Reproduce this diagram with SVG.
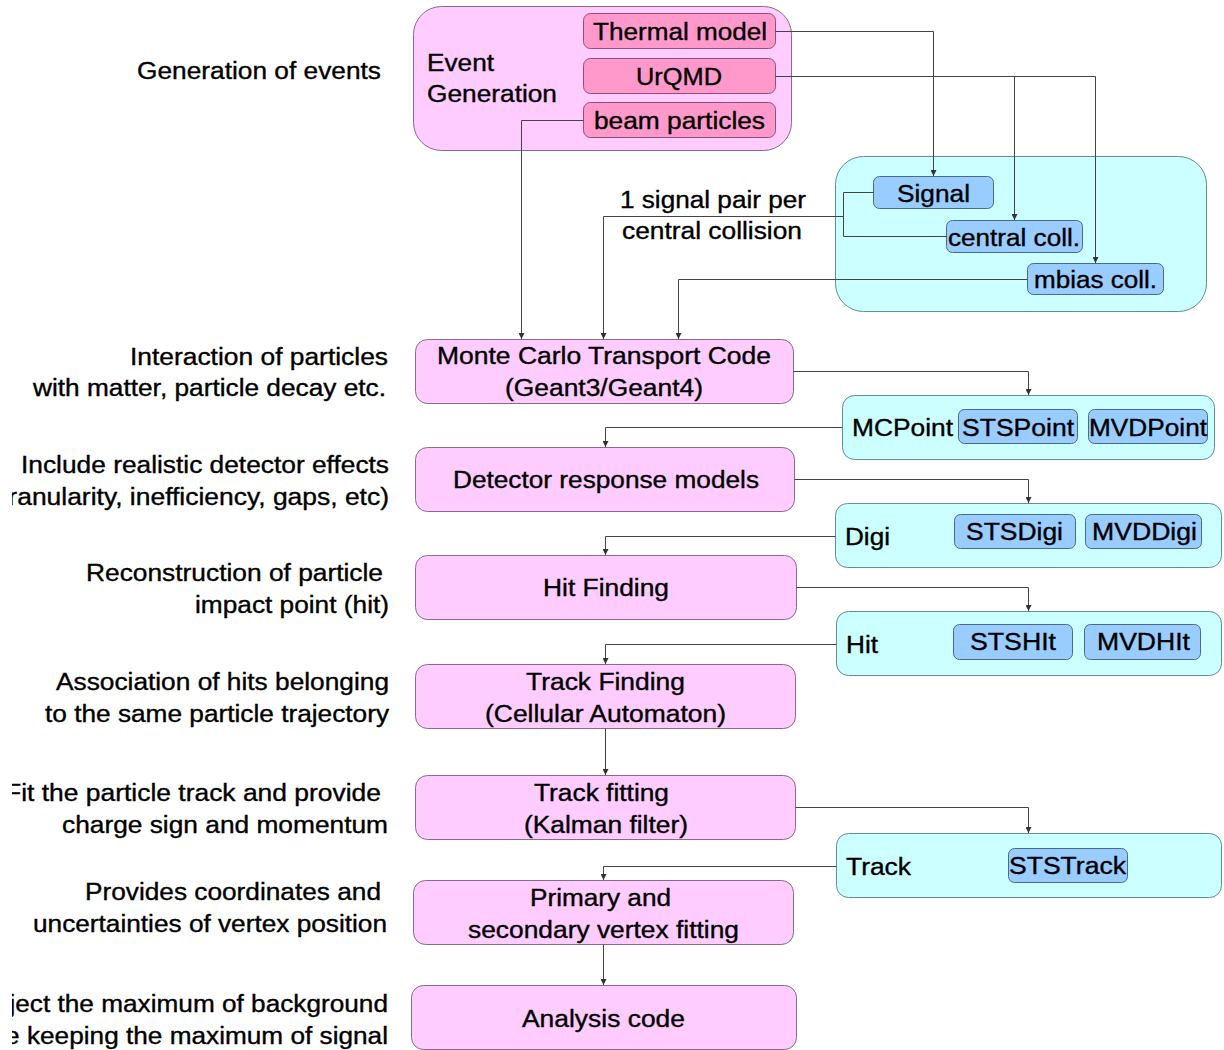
<svg xmlns="http://www.w3.org/2000/svg" width="1224" height="1050" viewBox="0 0 1224 1050">
<defs>
<style>
text{font-family:"Liberation Sans",Arial,sans-serif;font-size:23px;fill:#000;stroke:#000;stroke-width:0.35px}
.proc{fill:#ffccff;stroke:#8a6a8a;stroke-width:1}
.gen{fill:#ffccff;stroke:#8a6a8a;stroke-width:1}
.gsub{fill:#ff99cc;stroke:#94506e;stroke-width:1}
.data{fill:#ccffff;stroke:#5f8f8f;stroke-width:1}
.dsub{fill:#99ccff;stroke:#4a6a8a;stroke-width:1}
.conn path{fill:none;stroke:#444;stroke-width:1}
.arr{marker-end:url(#ah)}
</style>
<marker id="ah" viewBox="0 0 8 8" refX="8" refY="4" markerWidth="6" markerHeight="6" markerUnits="userSpaceOnUse" orient="auto">
<path d="M0,0 L8,4 L0,8 z" fill="#333"/>
</marker>
<clipPath id="lc"><rect x="12" y="0" width="400" height="1050"/></clipPath>
</defs>
<rect width="1224" height="1050" fill="#fff"/>

<g id="labels" clip-path="url(#lc)">
<text x="137" y="79" textLength="244" lengthAdjust="spacingAndGlyphs">Generation of events</text>
<text x="130" y="365" textLength="258" lengthAdjust="spacingAndGlyphs">Interaction of particles</text>
<text x="33" y="396" textLength="353" lengthAdjust="spacingAndGlyphs">with matter, particle decay etc.</text>
<text x="21" y="473" textLength="368" lengthAdjust="spacingAndGlyphs">Include realistic detector effects</text>
<text x="-21" y="505" textLength="410" lengthAdjust="spacingAndGlyphs">(Granularity, inefficiency, gaps, etc)</text>
<text x="86" y="581" textLength="297" lengthAdjust="spacingAndGlyphs">Reconstruction of particle</text>
<text x="195" y="613" textLength="194" lengthAdjust="spacingAndGlyphs">impact point (hit)</text>
<text x="56" y="690" textLength="333" lengthAdjust="spacingAndGlyphs">Association of hits belonging</text>
<text x="45" y="722" textLength="344" lengthAdjust="spacingAndGlyphs">to the same particle trajectory</text>
<text x="5" y="801" textLength="376" lengthAdjust="spacingAndGlyphs">Fit the particle track and provide</text>
<text x="62" y="833" textLength="326" lengthAdjust="spacingAndGlyphs">charge sign and momentum</text>
<text x="85" y="900" textLength="296" lengthAdjust="spacingAndGlyphs">Provides coordinates and</text>
<text x="33" y="932" textLength="354" lengthAdjust="spacingAndGlyphs">uncertainties of vertex position</text>
<text x="-24" y="1012" textLength="412" lengthAdjust="spacingAndGlyphs">Reject the maximum of background</text>
<text x="-40" y="1044" textLength="428" lengthAdjust="spacingAndGlyphs">while keeping the maximum of signal</text>
</g>

<g id="event-generation">
<rect class="gen" x="413.5" y="6.5" width="378" height="144" rx="28"/>
<text x="427" y="71" textLength="67" lengthAdjust="spacingAndGlyphs">Event</text>
<text x="427" y="102" textLength="130" lengthAdjust="spacingAndGlyphs">Generation</text>
</g>
<g id="thermal-model">
<rect class="gsub" x="583.5" y="13.5" width="192" height="35" rx="7"/>
<text x="593" y="40" textLength="174" lengthAdjust="spacingAndGlyphs">Thermal model</text>
</g>
<g id="urqmd">
<rect class="gsub" x="583.5" y="58.5" width="192" height="35" rx="7"/>
<text x="636" y="85" textLength="86" lengthAdjust="spacingAndGlyphs">UrQMD</text>
</g>
<g id="beam-particles">
<rect class="gsub" x="583.5" y="102.5" width="192" height="35" rx="7"/>
<text x="594" y="129" textLength="171" lengthAdjust="spacingAndGlyphs">beam particles</text>
</g>

<g id="input-sets">
<rect class="data" x="835.5" y="156.5" width="371" height="155" rx="28"/>
</g>
<g id="signal">
<rect class="dsub" x="873.5" y="176.5" width="120" height="32" rx="6"/>
<text x="897" y="202" textLength="73" lengthAdjust="spacingAndGlyphs">Signal</text>
</g>
<g id="central-coll">
<rect class="dsub" x="946.5" y="220.5" width="136" height="32" rx="6"/>
<text x="948" y="246" textLength="132" lengthAdjust="spacingAndGlyphs">central coll.</text>
</g>
<g id="mbias-coll">
<rect class="dsub" x="1027.5" y="263.5" width="136" height="31" rx="6"/>
<text x="1034" y="288" textLength="123" lengthAdjust="spacingAndGlyphs">mbias coll.</text>
</g>
<g id="signal-note">
<text x="620" y="208" textLength="186" lengthAdjust="spacingAndGlyphs">1 signal pair per</text>
<text x="622" y="239" textLength="180" lengthAdjust="spacingAndGlyphs">central collision</text>
</g>

<g id="monte-carlo">
<rect class="proc" x="415.5" y="339.5" width="378" height="64" rx="12"/>
<text x="437" y="364" textLength="334" lengthAdjust="spacingAndGlyphs">Monte Carlo Transport Code</text>
<text x="505" y="396" textLength="198" lengthAdjust="spacingAndGlyphs">(Geant3/Geant4)</text>
</g>
<g id="mcpoint">
<rect class="data" x="842.5" y="395.5" width="372" height="64" rx="12"/>
<text x="852" y="436" textLength="101" lengthAdjust="spacingAndGlyphs">MCPoint</text>
<rect class="dsub" x="958.5" y="409.5" width="119" height="34" rx="6"/>
<text x="962" y="436" textLength="112" lengthAdjust="spacingAndGlyphs">STSPoint</text>
<rect class="dsub" x="1088.5" y="409.5" width="119" height="34" rx="6"/>
<text x="1089" y="436" textLength="118" lengthAdjust="spacingAndGlyphs">MVDPoint</text>
</g>
<g id="detector-response">
<rect class="proc" x="415.5" y="447.5" width="379" height="64" rx="12"/>
<text x="453" y="488" textLength="306" lengthAdjust="spacingAndGlyphs">Detector response models</text>
</g>
<g id="digi">
<rect class="data" x="835.5" y="503.5" width="386" height="64" rx="12"/>
<text x="845" y="545" textLength="45" lengthAdjust="spacingAndGlyphs">Digi</text>
<rect class="dsub" x="954.5" y="514.5" width="121" height="34" rx="6"/>
<text x="966" y="540" textLength="97" lengthAdjust="spacingAndGlyphs">STSDigi</text>
<rect class="dsub" x="1085.5" y="514.5" width="116" height="34" rx="6"/>
<text x="1092" y="540" textLength="105" lengthAdjust="spacingAndGlyphs">MVDDigi</text>
</g>
<g id="hit-finding">
<rect class="proc" x="415.5" y="555.5" width="381" height="64" rx="12"/>
<text x="543" y="596" textLength="126" lengthAdjust="spacingAndGlyphs">Hit Finding</text>
</g>
<g id="hit">
<rect class="data" x="836.5" y="611.5" width="385" height="64" rx="12"/>
<text x="846" y="653" textLength="32" lengthAdjust="spacingAndGlyphs">Hit</text>
<rect class="dsub" x="953.5" y="624.5" width="119" height="35" rx="6"/>
<text x="970" y="650" textLength="86" lengthAdjust="spacingAndGlyphs">STSHIt</text>
<rect class="dsub" x="1084.5" y="624.5" width="116" height="35" rx="6"/>
<text x="1097" y="650" textLength="93" lengthAdjust="spacingAndGlyphs">MVDHIt</text>
</g>
<g id="track-finding">
<rect class="proc" x="415.5" y="664.5" width="380" height="64" rx="12"/>
<text x="526" y="690" textLength="159" lengthAdjust="spacingAndGlyphs">Track Finding</text>
<text x="485" y="722" textLength="241" lengthAdjust="spacingAndGlyphs">(Cellular Automaton)</text>
</g>
<g id="track-fitting">
<rect class="proc" x="415.5" y="775.5" width="380" height="64" rx="12"/>
<text x="534" y="801" textLength="135" lengthAdjust="spacingAndGlyphs">Track fitting</text>
<text x="524" y="833" textLength="164" lengthAdjust="spacingAndGlyphs">(Kalman filter)</text>
</g>
<g id="track">
<rect class="data" x="836.5" y="833.5" width="385" height="64" rx="12"/>
<text x="846" y="875" textLength="65" lengthAdjust="spacingAndGlyphs">Track</text>
<rect class="dsub" x="1008.5" y="848.5" width="119" height="34" rx="6"/>
<text x="1009" y="874" textLength="117" lengthAdjust="spacingAndGlyphs">STSTrack</text>
</g>
<g id="vertex-fitting">
<rect class="proc" x="413.5" y="880.5" width="380" height="64" rx="12"/>
<text x="530" y="906" textLength="141" lengthAdjust="spacingAndGlyphs">Primary and</text>
<text x="468" y="938" textLength="271" lengthAdjust="spacingAndGlyphs">secondary vertex fitting</text>
</g>
<g id="analysis-code">
<rect class="proc" x="411.5" y="985.5" width="385" height="64" rx="12"/>
<text x="522" y="1027" textLength="163" lengthAdjust="spacingAndGlyphs">Analysis code</text>
</g>

<g id="connectors" class="conn">
<path class="arr" d="M775.5,31.5 H933.5 V176"/>
<path class="arr" d="M775.5,76.5 H1095.5 V263"/>
<path class="arr" d="M1014.5,76.5 V220"/>
<path class="arr" d="M583.5,120.5 H521.5 V339"/>
<path d="M873.5,192.5 H843.5 V236.5 H946.5"/>
<path class="arr" d="M843.5,216.5 H603.5 V339"/>
<path class="arr" d="M1027.5,279.5 H678.5 V339"/>
<path class="arr" d="M793.5,371.5 H1028.5 V395"/>
<path class="arr" d="M842.5,427.5 H605.5 V447"/>
<path class="arr" d="M794.5,479.5 H1028.5 V503"/>
<path class="arr" d="M835.5,536.5 H605.5 V555"/>
<path class="arr" d="M796.5,587.5 H1028.5 V611"/>
<path class="arr" d="M836.5,644.5 H605.5 V664"/>
<path class="arr" d="M605.5,728.5 V775"/>
<path class="arr" d="M795.5,807.5 H1028.5 V833"/>
<path class="arr" d="M836.5,866.5 H603.5 V880"/>
<path class="arr" d="M603.5,944.5 V985"/>
</g>
</svg>
